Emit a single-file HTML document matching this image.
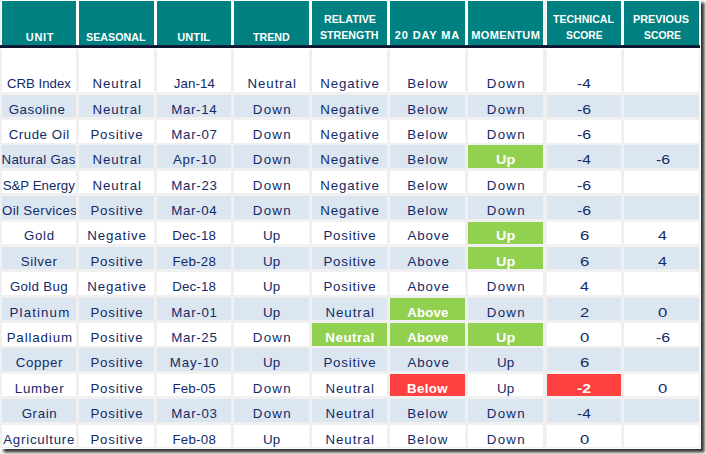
<!DOCTYPE html>
<html><head><meta charset="utf-8"><style>
html,body{margin:0;padding:0;background:#fff;width:706px;height:454px;overflow:hidden}
#r{position:relative;width:706px;height:454px;overflow:hidden}
#r div{position:absolute}
#clip0{left:0;top:0;width:76px;height:449px;overflow:hidden}
.t{white-space:pre;font-family:"Liberation Sans",sans-serif;transform-origin:0 0}
</style></head><body><div id="r">
<div style="left:-1px;top:-2px;width:702px;height:451px;background:#f0f0f0;box-shadow:3.5px 3.5px 3px rgba(0,0,0,0.8)"></div>
<div style="left:0px;top:449px;width:2px;height:5px;background:#f0f0f0"></div>
<div style="left:1px;top:0px;width:700px;height:45px;background:#ffffff"></div>
<div style="left:2px;top:1px;width:74px;height:44px;background:#008080"></div>
<div style="left:79px;top:1px;width:75px;height:44px;background:#008080"></div>
<div style="left:157px;top:1px;width:74px;height:44px;background:#008080"></div>
<div style="left:234px;top:1px;width:75px;height:44px;background:#008080"></div>
<div style="left:312px;top:1px;width:75px;height:44px;background:#008080"></div>
<div style="left:390px;top:1px;width:75px;height:44px;background:#008080"></div>
<div style="left:468px;top:1px;width:75px;height:44px;background:#008080"></div>
<div style="left:547px;top:1px;width:74px;height:44px;background:#008080"></div>
<div style="left:624px;top:1px;width:75px;height:44px;background:#008080"></div>
<div style="left:0px;top:45px;width:701px;height:1px;background:#17223f"></div>
<div style="left:0px;top:46px;width:701px;height:2px;background:#0b1631"></div>
<div style="left:0px;top:48px;width:701px;height:1px;background:#ffffff"></div>
<div style="left:544px;top:1px;width:2px;height:44px;background:#f0f0f0"></div>
<div style="left:700px;top:0px;width:1px;height:449px;background:#ffffff"></div>
<div style="left:0px;top:448px;width:701px;height:1px;background:#ffffff"></div>
<div style="left:2px;top:49px;width:74px;height:43px;background:#ffffff"></div>
<div style="left:79px;top:49px;width:75px;height:43px;background:#ffffff"></div>
<div style="left:157px;top:49px;width:74px;height:43px;background:#ffffff"></div>
<div style="left:234px;top:49px;width:75px;height:43px;background:#ffffff"></div>
<div style="left:312px;top:49px;width:75px;height:43px;background:#ffffff"></div>
<div style="left:390px;top:49px;width:75px;height:43px;background:#ffffff"></div>
<div style="left:468px;top:49px;width:75px;height:43px;background:#ffffff"></div>
<div style="left:547px;top:49px;width:74px;height:43px;background:#ffffff"></div>
<div style="left:624px;top:49px;width:75px;height:43px;background:#ffffff"></div>
<div style="left:2px;top:95px;width:74px;height:22px;background:#dce6f1"></div>
<div style="left:79px;top:95px;width:75px;height:22px;background:#dce6f1"></div>
<div style="left:157px;top:95px;width:74px;height:22px;background:#dce6f1"></div>
<div style="left:234px;top:95px;width:75px;height:22px;background:#dce6f1"></div>
<div style="left:312px;top:95px;width:75px;height:22px;background:#dce6f1"></div>
<div style="left:390px;top:95px;width:75px;height:22px;background:#dce6f1"></div>
<div style="left:468px;top:95px;width:75px;height:22px;background:#dce6f1"></div>
<div style="left:547px;top:95px;width:74px;height:22px;background:#dce6f1"></div>
<div style="left:624px;top:95px;width:75px;height:22px;background:#dce6f1"></div>
<div style="left:2px;top:120px;width:74px;height:23px;background:#ffffff"></div>
<div style="left:79px;top:120px;width:75px;height:23px;background:#ffffff"></div>
<div style="left:157px;top:120px;width:74px;height:23px;background:#ffffff"></div>
<div style="left:234px;top:120px;width:75px;height:23px;background:#ffffff"></div>
<div style="left:312px;top:120px;width:75px;height:23px;background:#ffffff"></div>
<div style="left:390px;top:120px;width:75px;height:23px;background:#ffffff"></div>
<div style="left:468px;top:120px;width:75px;height:23px;background:#ffffff"></div>
<div style="left:547px;top:120px;width:74px;height:23px;background:#ffffff"></div>
<div style="left:624px;top:120px;width:75px;height:23px;background:#ffffff"></div>
<div style="left:2px;top:145px;width:74px;height:23px;background:#dce6f1"></div>
<div style="left:79px;top:145px;width:75px;height:23px;background:#dce6f1"></div>
<div style="left:157px;top:145px;width:74px;height:23px;background:#dce6f1"></div>
<div style="left:234px;top:145px;width:75px;height:23px;background:#dce6f1"></div>
<div style="left:312px;top:145px;width:75px;height:23px;background:#dce6f1"></div>
<div style="left:390px;top:145px;width:75px;height:23px;background:#dce6f1"></div>
<div style="left:468px;top:145px;width:75px;height:23px;background:#92d050"></div>
<div style="left:547px;top:145px;width:74px;height:23px;background:#dce6f1"></div>
<div style="left:624px;top:145px;width:75px;height:23px;background:#dce6f1"></div>
<div style="left:2px;top:171px;width:74px;height:22px;background:#ffffff"></div>
<div style="left:79px;top:171px;width:75px;height:22px;background:#ffffff"></div>
<div style="left:157px;top:171px;width:74px;height:22px;background:#ffffff"></div>
<div style="left:234px;top:171px;width:75px;height:22px;background:#ffffff"></div>
<div style="left:312px;top:171px;width:75px;height:22px;background:#ffffff"></div>
<div style="left:390px;top:171px;width:75px;height:22px;background:#ffffff"></div>
<div style="left:468px;top:171px;width:75px;height:22px;background:#ffffff"></div>
<div style="left:547px;top:171px;width:74px;height:22px;background:#ffffff"></div>
<div style="left:624px;top:171px;width:75px;height:22px;background:#ffffff"></div>
<div style="left:2px;top:196px;width:74px;height:23px;background:#dce6f1"></div>
<div style="left:79px;top:196px;width:75px;height:23px;background:#dce6f1"></div>
<div style="left:157px;top:196px;width:74px;height:23px;background:#dce6f1"></div>
<div style="left:234px;top:196px;width:75px;height:23px;background:#dce6f1"></div>
<div style="left:312px;top:196px;width:75px;height:23px;background:#dce6f1"></div>
<div style="left:390px;top:196px;width:75px;height:23px;background:#dce6f1"></div>
<div style="left:468px;top:196px;width:75px;height:23px;background:#dce6f1"></div>
<div style="left:547px;top:196px;width:74px;height:23px;background:#dce6f1"></div>
<div style="left:624px;top:196px;width:75px;height:23px;background:#dce6f1"></div>
<div style="left:2px;top:222px;width:74px;height:22px;background:#ffffff"></div>
<div style="left:79px;top:222px;width:75px;height:22px;background:#ffffff"></div>
<div style="left:157px;top:222px;width:74px;height:22px;background:#ffffff"></div>
<div style="left:234px;top:222px;width:75px;height:22px;background:#ffffff"></div>
<div style="left:312px;top:222px;width:75px;height:22px;background:#ffffff"></div>
<div style="left:390px;top:222px;width:75px;height:22px;background:#ffffff"></div>
<div style="left:468px;top:222px;width:75px;height:22px;background:#92d050"></div>
<div style="left:547px;top:222px;width:74px;height:22px;background:#ffffff"></div>
<div style="left:624px;top:222px;width:75px;height:22px;background:#ffffff"></div>
<div style="left:2px;top:247px;width:74px;height:22px;background:#dce6f1"></div>
<div style="left:79px;top:247px;width:75px;height:22px;background:#dce6f1"></div>
<div style="left:157px;top:247px;width:74px;height:22px;background:#dce6f1"></div>
<div style="left:234px;top:247px;width:75px;height:22px;background:#dce6f1"></div>
<div style="left:312px;top:247px;width:75px;height:22px;background:#dce6f1"></div>
<div style="left:390px;top:247px;width:75px;height:22px;background:#dce6f1"></div>
<div style="left:468px;top:247px;width:75px;height:22px;background:#92d050"></div>
<div style="left:547px;top:247px;width:74px;height:22px;background:#dce6f1"></div>
<div style="left:624px;top:247px;width:75px;height:22px;background:#dce6f1"></div>
<div style="left:2px;top:272px;width:74px;height:23px;background:#ffffff"></div>
<div style="left:79px;top:272px;width:75px;height:23px;background:#ffffff"></div>
<div style="left:157px;top:272px;width:74px;height:23px;background:#ffffff"></div>
<div style="left:234px;top:272px;width:75px;height:23px;background:#ffffff"></div>
<div style="left:312px;top:272px;width:75px;height:23px;background:#ffffff"></div>
<div style="left:390px;top:272px;width:75px;height:23px;background:#ffffff"></div>
<div style="left:468px;top:272px;width:75px;height:23px;background:#ffffff"></div>
<div style="left:547px;top:272px;width:74px;height:23px;background:#ffffff"></div>
<div style="left:624px;top:272px;width:75px;height:23px;background:#ffffff"></div>
<div style="left:2px;top:298px;width:74px;height:22px;background:#dce6f1"></div>
<div style="left:79px;top:298px;width:75px;height:22px;background:#dce6f1"></div>
<div style="left:157px;top:298px;width:74px;height:22px;background:#dce6f1"></div>
<div style="left:234px;top:298px;width:75px;height:22px;background:#dce6f1"></div>
<div style="left:312px;top:298px;width:75px;height:22px;background:#dce6f1"></div>
<div style="left:390px;top:298px;width:75px;height:22px;background:#92d050"></div>
<div style="left:468px;top:298px;width:75px;height:22px;background:#dce6f1"></div>
<div style="left:547px;top:298px;width:74px;height:22px;background:#dce6f1"></div>
<div style="left:624px;top:298px;width:75px;height:22px;background:#dce6f1"></div>
<div style="left:2px;top:323px;width:74px;height:23px;background:#ffffff"></div>
<div style="left:79px;top:323px;width:75px;height:23px;background:#ffffff"></div>
<div style="left:157px;top:323px;width:74px;height:23px;background:#ffffff"></div>
<div style="left:234px;top:323px;width:75px;height:23px;background:#ffffff"></div>
<div style="left:312px;top:323px;width:75px;height:23px;background:#92d050"></div>
<div style="left:390px;top:323px;width:75px;height:23px;background:#92d050"></div>
<div style="left:468px;top:323px;width:75px;height:23px;background:#92d050"></div>
<div style="left:547px;top:323px;width:74px;height:23px;background:#ffffff"></div>
<div style="left:624px;top:323px;width:75px;height:23px;background:#ffffff"></div>
<div style="left:2px;top:348px;width:74px;height:23px;background:#dce6f1"></div>
<div style="left:79px;top:348px;width:75px;height:23px;background:#dce6f1"></div>
<div style="left:157px;top:348px;width:74px;height:23px;background:#dce6f1"></div>
<div style="left:234px;top:348px;width:75px;height:23px;background:#dce6f1"></div>
<div style="left:312px;top:348px;width:75px;height:23px;background:#dce6f1"></div>
<div style="left:390px;top:348px;width:75px;height:23px;background:#dce6f1"></div>
<div style="left:468px;top:348px;width:75px;height:23px;background:#dce6f1"></div>
<div style="left:547px;top:348px;width:74px;height:23px;background:#dce6f1"></div>
<div style="left:624px;top:348px;width:75px;height:23px;background:#dce6f1"></div>
<div style="left:2px;top:374px;width:74px;height:22px;background:#ffffff"></div>
<div style="left:79px;top:374px;width:75px;height:22px;background:#ffffff"></div>
<div style="left:157px;top:374px;width:74px;height:22px;background:#ffffff"></div>
<div style="left:234px;top:374px;width:75px;height:22px;background:#ffffff"></div>
<div style="left:312px;top:374px;width:75px;height:22px;background:#ffffff"></div>
<div style="left:390px;top:374px;width:75px;height:22px;background:#ff4040"></div>
<div style="left:468px;top:374px;width:75px;height:22px;background:#ffffff"></div>
<div style="left:547px;top:374px;width:74px;height:22px;background:#ff4040"></div>
<div style="left:624px;top:374px;width:75px;height:22px;background:#ffffff"></div>
<div style="left:2px;top:399px;width:74px;height:23px;background:#dce6f1"></div>
<div style="left:79px;top:399px;width:75px;height:23px;background:#dce6f1"></div>
<div style="left:157px;top:399px;width:74px;height:23px;background:#dce6f1"></div>
<div style="left:234px;top:399px;width:75px;height:23px;background:#dce6f1"></div>
<div style="left:312px;top:399px;width:75px;height:23px;background:#dce6f1"></div>
<div style="left:390px;top:399px;width:75px;height:23px;background:#dce6f1"></div>
<div style="left:468px;top:399px;width:75px;height:23px;background:#dce6f1"></div>
<div style="left:547px;top:399px;width:74px;height:23px;background:#dce6f1"></div>
<div style="left:624px;top:399px;width:75px;height:23px;background:#dce6f1"></div>
<div style="left:2px;top:425px;width:74px;height:22px;background:#ffffff"></div>
<div style="left:79px;top:425px;width:75px;height:22px;background:#ffffff"></div>
<div style="left:157px;top:425px;width:74px;height:22px;background:#ffffff"></div>
<div style="left:234px;top:425px;width:75px;height:22px;background:#ffffff"></div>
<div style="left:312px;top:425px;width:75px;height:22px;background:#ffffff"></div>
<div style="left:390px;top:425px;width:75px;height:22px;background:#ffffff"></div>
<div style="left:468px;top:425px;width:75px;height:22px;background:#ffffff"></div>
<div style="left:547px;top:425px;width:74px;height:22px;background:#ffffff"></div>
<div style="left:624px;top:425px;width:75px;height:22px;background:#ffffff"></div>
<div class="t" style="left:25.84px;top:26.19px;font-size:11px;line-height:22px;font-weight:bold;color:#ffffff;transform:scaleX(1.0000);letter-spacing:0.680px">UNIT</div>
<div class="t" style="left:86.08px;top:26.19px;font-size:11px;line-height:22px;font-weight:bold;color:#ffffff;transform:scaleX(0.9736);letter-spacing:0.000px">SEASONAL</div>
<div class="t" style="left:177.24px;top:26.19px;font-size:11px;line-height:22px;font-weight:bold;color:#ffffff;transform:scaleX(1.0000);letter-spacing:0.112px">UNTIL</div>
<div class="t" style="left:253.49px;top:26.19px;font-size:11px;line-height:22px;font-weight:bold;color:#ffffff;transform:scaleX(0.9708);letter-spacing:0.000px">TREND</div>
<div class="t" style="left:323.65px;top:8.19px;font-size:11px;line-height:22px;font-weight:bold;color:#ffffff;transform:scaleX(0.9702);letter-spacing:0.000px">RELATIVE</div>
<div class="t" style="left:319.98px;top:24.19px;font-size:11px;line-height:22px;font-weight:bold;color:#ffffff;transform:scaleX(0.9663);letter-spacing:0.000px">STRENGTH</div>
<div class="t" style="left:394.77px;top:24.19px;font-size:11px;line-height:22px;font-weight:bold;color:#ffffff;transform:scaleX(1.0000);letter-spacing:0.867px">20 DAY MA</div>
<div class="t" style="left:471.23px;top:24.19px;font-size:11px;line-height:22px;font-weight:bold;color:#ffffff;transform:scaleX(1.0000);letter-spacing:0.377px">MOMENTUM</div>
<div class="t" style="left:553.49px;top:8.19px;font-size:11px;line-height:22px;font-weight:bold;color:#ffffff;transform:scaleX(0.9582);letter-spacing:0.000px">TECHNICAL</div>
<div class="t" style="left:565.79px;top:24.19px;font-size:11px;line-height:22px;font-weight:bold;color:#ffffff;transform:scaleX(0.9377);letter-spacing:0.000px">SCORE</div>
<div class="t" style="left:633.34px;top:8.19px;font-size:11px;line-height:22px;font-weight:bold;color:#ffffff;transform:scaleX(0.9845);letter-spacing:0.000px">PREVIOUS</div>
<div class="t" style="left:643.99px;top:24.19px;font-size:11px;line-height:22px;font-weight:bold;color:#ffffff;transform:scaleX(0.9430);letter-spacing:0.000px">SCORE</div>
<div class="t" style="left:92.39px;top:71.09px;font-size:13.3px;line-height:26.6px;font-weight:normal;color:#122a66;transform:scaleX(1.0000);letter-spacing:0.956px">Neutral</div>
<div class="t" style="left:173.78px;top:71.09px;font-size:13.3px;line-height:26.6px;font-weight:normal;color:#122a66;transform:scaleX(1.0000);letter-spacing:0.093px">Jan-14</div>
<div class="t" style="left:247.39px;top:71.09px;font-size:13.3px;line-height:26.6px;font-weight:normal;color:#122a66;transform:scaleX(1.0000);letter-spacing:0.956px">Neutral</div>
<div class="t" style="left:320.14px;top:71.09px;font-size:13.3px;line-height:26.6px;font-weight:normal;color:#122a66;transform:scaleX(1.0000);letter-spacing:0.913px">Negative</div>
<div class="t" style="left:407.19px;top:71.09px;font-size:13.3px;line-height:26.6px;font-weight:normal;color:#122a66;transform:scaleX(1.0000);letter-spacing:0.964px">Below</div>
<div class="t" style="left:486.74px;top:71.09px;font-size:13.3px;line-height:26.6px;font-weight:normal;color:#122a66;transform:scaleX(1.0000);letter-spacing:1.316px">Down</div>
<div class="t" style="left:577.33px;top:71.09px;font-size:13.3px;line-height:26.6px;font-weight:normal;color:#122a66;transform:scaleX(1.1645);letter-spacing:0.000px">-4</div>
<div class="t" style="left:92.39px;top:97.09px;font-size:13.3px;line-height:26.6px;font-weight:normal;color:#122a66;transform:scaleX(1.0000);letter-spacing:0.956px">Neutral</div>
<div class="t" style="left:171.24px;top:97.09px;font-size:13.3px;line-height:26.6px;font-weight:normal;color:#122a66;transform:scaleX(1.0000);letter-spacing:0.660px">Mar-14</div>
<div class="t" style="left:252.74px;top:97.09px;font-size:13.3px;line-height:26.6px;font-weight:normal;color:#122a66;transform:scaleX(1.0000);letter-spacing:1.316px">Down</div>
<div class="t" style="left:320.14px;top:97.09px;font-size:13.3px;line-height:26.6px;font-weight:normal;color:#122a66;transform:scaleX(1.0000);letter-spacing:0.913px">Negative</div>
<div class="t" style="left:407.19px;top:97.09px;font-size:13.3px;line-height:26.6px;font-weight:normal;color:#122a66;transform:scaleX(1.0000);letter-spacing:0.964px">Below</div>
<div class="t" style="left:486.74px;top:97.09px;font-size:13.3px;line-height:26.6px;font-weight:normal;color:#122a66;transform:scaleX(1.0000);letter-spacing:1.316px">Down</div>
<div class="t" style="left:577.31px;top:97.09px;font-size:13.3px;line-height:26.6px;font-weight:normal;color:#122a66;transform:scaleX(1.1936);letter-spacing:0.000px">-6</div>
<div class="t" style="left:90.39px;top:122.09px;font-size:13.3px;line-height:26.6px;font-weight:normal;color:#122a66;transform:scaleX(1.0000);letter-spacing:0.821px">Positive</div>
<div class="t" style="left:171.24px;top:122.09px;font-size:13.3px;line-height:26.6px;font-weight:normal;color:#122a66;transform:scaleX(1.0000);letter-spacing:0.714px">Mar-07</div>
<div class="t" style="left:252.74px;top:122.09px;font-size:13.3px;line-height:26.6px;font-weight:normal;color:#122a66;transform:scaleX(1.0000);letter-spacing:1.316px">Down</div>
<div class="t" style="left:320.14px;top:122.09px;font-size:13.3px;line-height:26.6px;font-weight:normal;color:#122a66;transform:scaleX(1.0000);letter-spacing:0.913px">Negative</div>
<div class="t" style="left:407.19px;top:122.09px;font-size:13.3px;line-height:26.6px;font-weight:normal;color:#122a66;transform:scaleX(1.0000);letter-spacing:0.964px">Below</div>
<div class="t" style="left:486.74px;top:122.09px;font-size:13.3px;line-height:26.6px;font-weight:normal;color:#122a66;transform:scaleX(1.0000);letter-spacing:1.316px">Down</div>
<div class="t" style="left:577.31px;top:122.09px;font-size:13.3px;line-height:26.6px;font-weight:normal;color:#122a66;transform:scaleX(1.1936);letter-spacing:0.000px">-6</div>
<div class="t" style="left:92.39px;top:147.09px;font-size:13.3px;line-height:26.6px;font-weight:normal;color:#122a66;transform:scaleX(1.0000);letter-spacing:0.956px">Neutral</div>
<div class="t" style="left:172.95px;top:147.09px;font-size:13.3px;line-height:26.6px;font-weight:normal;color:#122a66;transform:scaleX(1.0000);letter-spacing:0.666px">Apr-10</div>
<div class="t" style="left:252.74px;top:147.09px;font-size:13.3px;line-height:26.6px;font-weight:normal;color:#122a66;transform:scaleX(1.0000);letter-spacing:1.316px">Down</div>
<div class="t" style="left:320.14px;top:147.09px;font-size:13.3px;line-height:26.6px;font-weight:normal;color:#122a66;transform:scaleX(1.0000);letter-spacing:0.913px">Negative</div>
<div class="t" style="left:407.19px;top:147.09px;font-size:13.3px;line-height:26.6px;font-weight:normal;color:#122a66;transform:scaleX(1.0000);letter-spacing:0.964px">Below</div>
<div class="t" style="left:496.09px;top:147.09px;font-size:13.3px;line-height:26.6px;font-weight:bold;color:#ffffff;transform:scaleX(1.0820);letter-spacing:0.000px">Up</div>
<div class="t" style="left:577.33px;top:147.09px;font-size:13.3px;line-height:26.6px;font-weight:normal;color:#122a66;transform:scaleX(1.1645);letter-spacing:0.000px">-4</div>
<div class="t" style="left:655.72px;top:147.09px;font-size:13.3px;line-height:26.6px;font-weight:normal;color:#122a66;transform:scaleX(1.1936);letter-spacing:0.000px">-6</div>
<div class="t" style="left:92.39px;top:173.09px;font-size:13.3px;line-height:26.6px;font-weight:normal;color:#122a66;transform:scaleX(1.0000);letter-spacing:0.956px">Neutral</div>
<div class="t" style="left:171.24px;top:173.09px;font-size:13.3px;line-height:26.6px;font-weight:normal;color:#122a66;transform:scaleX(1.0000);letter-spacing:0.714px">Mar-23</div>
<div class="t" style="left:252.74px;top:173.09px;font-size:13.3px;line-height:26.6px;font-weight:normal;color:#122a66;transform:scaleX(1.0000);letter-spacing:1.316px">Down</div>
<div class="t" style="left:320.14px;top:173.09px;font-size:13.3px;line-height:26.6px;font-weight:normal;color:#122a66;transform:scaleX(1.0000);letter-spacing:0.913px">Negative</div>
<div class="t" style="left:407.19px;top:173.09px;font-size:13.3px;line-height:26.6px;font-weight:normal;color:#122a66;transform:scaleX(1.0000);letter-spacing:0.964px">Below</div>
<div class="t" style="left:486.74px;top:173.09px;font-size:13.3px;line-height:26.6px;font-weight:normal;color:#122a66;transform:scaleX(1.0000);letter-spacing:1.316px">Down</div>
<div class="t" style="left:577.31px;top:173.09px;font-size:13.3px;line-height:26.6px;font-weight:normal;color:#122a66;transform:scaleX(1.1936);letter-spacing:0.000px">-6</div>
<div class="t" style="left:90.39px;top:198.09px;font-size:13.3px;line-height:26.6px;font-weight:normal;color:#122a66;transform:scaleX(1.0000);letter-spacing:0.821px">Positive</div>
<div class="t" style="left:171.24px;top:198.09px;font-size:13.3px;line-height:26.6px;font-weight:normal;color:#122a66;transform:scaleX(1.0000);letter-spacing:0.660px">Mar-04</div>
<div class="t" style="left:252.74px;top:198.09px;font-size:13.3px;line-height:26.6px;font-weight:normal;color:#122a66;transform:scaleX(1.0000);letter-spacing:1.316px">Down</div>
<div class="t" style="left:320.14px;top:198.09px;font-size:13.3px;line-height:26.6px;font-weight:normal;color:#122a66;transform:scaleX(1.0000);letter-spacing:0.913px">Negative</div>
<div class="t" style="left:407.19px;top:198.09px;font-size:13.3px;line-height:26.6px;font-weight:normal;color:#122a66;transform:scaleX(1.0000);letter-spacing:0.964px">Below</div>
<div class="t" style="left:486.74px;top:198.09px;font-size:13.3px;line-height:26.6px;font-weight:normal;color:#122a66;transform:scaleX(1.0000);letter-spacing:1.316px">Down</div>
<div class="t" style="left:577.31px;top:198.09px;font-size:13.3px;line-height:26.6px;font-weight:normal;color:#122a66;transform:scaleX(1.1936);letter-spacing:0.000px">-6</div>
<div class="t" style="left:87.14px;top:223.09px;font-size:13.3px;line-height:26.6px;font-weight:normal;color:#122a66;transform:scaleX(1.0000);letter-spacing:0.913px">Negative</div>
<div class="t" style="left:172.14px;top:223.09px;font-size:13.3px;line-height:26.6px;font-weight:normal;color:#122a66;transform:scaleX(1.0000);letter-spacing:0.194px">Dec-18</div>
<div class="t" style="left:262.98px;top:223.09px;font-size:13.3px;line-height:26.6px;font-weight:normal;color:#122a66;transform:scaleX(1.0047);letter-spacing:0.000px">Up</div>
<div class="t" style="left:323.39px;top:223.09px;font-size:13.3px;line-height:26.6px;font-weight:normal;color:#122a66;transform:scaleX(1.0000);letter-spacing:0.821px">Positive</div>
<div class="t" style="left:407.40px;top:223.09px;font-size:13.3px;line-height:26.6px;font-weight:normal;color:#122a66;transform:scaleX(1.0000);letter-spacing:0.923px">Above</div>
<div class="t" style="left:496.09px;top:223.09px;font-size:13.3px;line-height:26.6px;font-weight:bold;color:#ffffff;transform:scaleX(1.0820);letter-spacing:0.000px">Up</div>
<div class="t" style="left:579.61px;top:223.09px;font-size:13.3px;line-height:26.6px;font-weight:normal;color:#122a66;transform:scaleX(1.2586);letter-spacing:0.000px">6</div>
<div class="t" style="left:658.33px;top:223.09px;font-size:13.3px;line-height:26.6px;font-weight:normal;color:#122a66;transform:scaleX(1.1942);letter-spacing:0.000px">4</div>
<div class="t" style="left:90.39px;top:249.09px;font-size:13.3px;line-height:26.6px;font-weight:normal;color:#122a66;transform:scaleX(1.0000);letter-spacing:0.821px">Positive</div>
<div class="t" style="left:172.39px;top:249.09px;font-size:13.3px;line-height:26.6px;font-weight:normal;color:#122a66;transform:scaleX(1.0000);letter-spacing:0.254px">Feb-28</div>
<div class="t" style="left:262.98px;top:249.09px;font-size:13.3px;line-height:26.6px;font-weight:normal;color:#122a66;transform:scaleX(1.0047);letter-spacing:0.000px">Up</div>
<div class="t" style="left:323.39px;top:249.09px;font-size:13.3px;line-height:26.6px;font-weight:normal;color:#122a66;transform:scaleX(1.0000);letter-spacing:0.821px">Positive</div>
<div class="t" style="left:407.40px;top:249.09px;font-size:13.3px;line-height:26.6px;font-weight:normal;color:#122a66;transform:scaleX(1.0000);letter-spacing:0.923px">Above</div>
<div class="t" style="left:496.09px;top:249.09px;font-size:13.3px;line-height:26.6px;font-weight:bold;color:#ffffff;transform:scaleX(1.0820);letter-spacing:0.000px">Up</div>
<div class="t" style="left:579.61px;top:249.09px;font-size:13.3px;line-height:26.6px;font-weight:normal;color:#122a66;transform:scaleX(1.2586);letter-spacing:0.000px">6</div>
<div class="t" style="left:658.33px;top:249.09px;font-size:13.3px;line-height:26.6px;font-weight:normal;color:#122a66;transform:scaleX(1.1942);letter-spacing:0.000px">4</div>
<div class="t" style="left:87.14px;top:274.09px;font-size:13.3px;line-height:26.6px;font-weight:normal;color:#122a66;transform:scaleX(1.0000);letter-spacing:0.913px">Negative</div>
<div class="t" style="left:172.14px;top:274.09px;font-size:13.3px;line-height:26.6px;font-weight:normal;color:#122a66;transform:scaleX(1.0000);letter-spacing:0.194px">Dec-18</div>
<div class="t" style="left:262.98px;top:274.09px;font-size:13.3px;line-height:26.6px;font-weight:normal;color:#122a66;transform:scaleX(1.0047);letter-spacing:0.000px">Up</div>
<div class="t" style="left:323.39px;top:274.09px;font-size:13.3px;line-height:26.6px;font-weight:normal;color:#122a66;transform:scaleX(1.0000);letter-spacing:0.821px">Positive</div>
<div class="t" style="left:407.40px;top:274.09px;font-size:13.3px;line-height:26.6px;font-weight:normal;color:#122a66;transform:scaleX(1.0000);letter-spacing:0.923px">Above</div>
<div class="t" style="left:486.74px;top:274.09px;font-size:13.3px;line-height:26.6px;font-weight:normal;color:#122a66;transform:scaleX(1.0000);letter-spacing:1.316px">Down</div>
<div class="t" style="left:579.93px;top:274.09px;font-size:13.3px;line-height:26.6px;font-weight:normal;color:#122a66;transform:scaleX(1.1942);letter-spacing:0.000px">4</div>
<div class="t" style="left:90.39px;top:300.09px;font-size:13.3px;line-height:26.6px;font-weight:normal;color:#122a66;transform:scaleX(1.0000);letter-spacing:0.821px">Positive</div>
<div class="t" style="left:171.24px;top:300.09px;font-size:13.3px;line-height:26.6px;font-weight:normal;color:#122a66;transform:scaleX(1.0000);letter-spacing:0.714px">Mar-01</div>
<div class="t" style="left:262.98px;top:300.09px;font-size:13.3px;line-height:26.6px;font-weight:normal;color:#122a66;transform:scaleX(1.0047);letter-spacing:0.000px">Up</div>
<div class="t" style="left:325.39px;top:300.09px;font-size:13.3px;line-height:26.6px;font-weight:normal;color:#122a66;transform:scaleX(1.0000);letter-spacing:0.956px">Neutral</div>
<div class="t" style="left:407.30px;top:300.09px;font-size:13.3px;line-height:26.6px;font-weight:bold;color:#ffffff;transform:scaleX(1.0000);letter-spacing:0.108px">Above</div>
<div class="t" style="left:486.74px;top:300.09px;font-size:13.3px;line-height:26.6px;font-weight:normal;color:#122a66;transform:scaleX(1.0000);letter-spacing:1.316px">Down</div>
<div class="t" style="left:579.67px;top:300.09px;font-size:13.3px;line-height:26.6px;font-weight:normal;color:#122a66;transform:scaleX(1.2422);letter-spacing:0.000px">2</div>
<div class="t" style="left:658.03px;top:300.09px;font-size:13.3px;line-height:26.6px;font-weight:normal;color:#122a66;transform:scaleX(1.2531);letter-spacing:0.000px">0</div>
<div class="t" style="left:90.39px;top:325.09px;font-size:13.3px;line-height:26.6px;font-weight:normal;color:#122a66;transform:scaleX(1.0000);letter-spacing:0.821px">Positive</div>
<div class="t" style="left:171.24px;top:325.09px;font-size:13.3px;line-height:26.6px;font-weight:normal;color:#122a66;transform:scaleX(1.0000);letter-spacing:0.687px">Mar-25</div>
<div class="t" style="left:252.74px;top:325.09px;font-size:13.3px;line-height:26.6px;font-weight:normal;color:#122a66;transform:scaleX(1.0000);letter-spacing:1.316px">Down</div>
<div class="t" style="left:325.37px;top:325.09px;font-size:13.3px;line-height:26.6px;font-weight:bold;color:#ffffff;transform:scaleX(1.0000);letter-spacing:0.518px">Neutral</div>
<div class="t" style="left:407.30px;top:325.09px;font-size:13.3px;line-height:26.6px;font-weight:bold;color:#ffffff;transform:scaleX(1.0000);letter-spacing:0.108px">Above</div>
<div class="t" style="left:496.09px;top:325.09px;font-size:13.3px;line-height:26.6px;font-weight:bold;color:#ffffff;transform:scaleX(1.0820);letter-spacing:0.000px">Up</div>
<div class="t" style="left:579.63px;top:325.09px;font-size:13.3px;line-height:26.6px;font-weight:normal;color:#122a66;transform:scaleX(1.2531);letter-spacing:0.000px">0</div>
<div class="t" style="left:655.72px;top:325.09px;font-size:13.3px;line-height:26.6px;font-weight:normal;color:#122a66;transform:scaleX(1.1936);letter-spacing:0.000px">-6</div>
<div class="t" style="left:90.39px;top:350.09px;font-size:13.3px;line-height:26.6px;font-weight:normal;color:#122a66;transform:scaleX(1.0000);letter-spacing:0.821px">Positive</div>
<div class="t" style="left:169.84px;top:350.09px;font-size:13.3px;line-height:26.6px;font-weight:normal;color:#122a66;transform:scaleX(1.0000);letter-spacing:0.821px">May-10</div>
<div class="t" style="left:262.98px;top:350.09px;font-size:13.3px;line-height:26.6px;font-weight:normal;color:#122a66;transform:scaleX(1.0047);letter-spacing:0.000px">Up</div>
<div class="t" style="left:323.39px;top:350.09px;font-size:13.3px;line-height:26.6px;font-weight:normal;color:#122a66;transform:scaleX(1.0000);letter-spacing:0.821px">Positive</div>
<div class="t" style="left:407.40px;top:350.09px;font-size:13.3px;line-height:26.6px;font-weight:normal;color:#122a66;transform:scaleX(1.0000);letter-spacing:0.923px">Above</div>
<div class="t" style="left:496.98px;top:350.09px;font-size:13.3px;line-height:26.6px;font-weight:normal;color:#122a66;transform:scaleX(1.0047);letter-spacing:0.000px">Up</div>
<div class="t" style="left:579.61px;top:350.09px;font-size:13.3px;line-height:26.6px;font-weight:normal;color:#122a66;transform:scaleX(1.2586);letter-spacing:0.000px">6</div>
<div class="t" style="left:90.39px;top:376.09px;font-size:13.3px;line-height:26.6px;font-weight:normal;color:#122a66;transform:scaleX(1.0000);letter-spacing:0.821px">Positive</div>
<div class="t" style="left:172.39px;top:376.09px;font-size:13.3px;line-height:26.6px;font-weight:normal;color:#122a66;transform:scaleX(1.0000);letter-spacing:0.227px">Feb-05</div>
<div class="t" style="left:252.74px;top:376.09px;font-size:13.3px;line-height:26.6px;font-weight:normal;color:#122a66;transform:scaleX(1.0000);letter-spacing:1.316px">Down</div>
<div class="t" style="left:325.39px;top:376.09px;font-size:13.3px;line-height:26.6px;font-weight:normal;color:#122a66;transform:scaleX(1.0000);letter-spacing:0.956px">Neutral</div>
<div class="t" style="left:407.02px;top:376.09px;font-size:13.3px;line-height:26.6px;font-weight:bold;color:#ffffff;transform:scaleX(1.0000);letter-spacing:0.349px">Below</div>
<div class="t" style="left:496.98px;top:376.09px;font-size:13.3px;line-height:26.6px;font-weight:normal;color:#122a66;transform:scaleX(1.0047);letter-spacing:0.000px">Up</div>
<div class="t" style="left:577.27px;top:376.09px;font-size:13.3px;line-height:26.6px;font-weight:bold;color:#ffffff;transform:scaleX(1.1882);letter-spacing:0.000px">-2</div>
<div class="t" style="left:658.03px;top:376.09px;font-size:13.3px;line-height:26.6px;font-weight:normal;color:#122a66;transform:scaleX(1.2531);letter-spacing:0.000px">0</div>
<div class="t" style="left:90.39px;top:401.09px;font-size:13.3px;line-height:26.6px;font-weight:normal;color:#122a66;transform:scaleX(1.0000);letter-spacing:0.821px">Positive</div>
<div class="t" style="left:171.24px;top:401.09px;font-size:13.3px;line-height:26.6px;font-weight:normal;color:#122a66;transform:scaleX(1.0000);letter-spacing:0.714px">Mar-03</div>
<div class="t" style="left:252.74px;top:401.09px;font-size:13.3px;line-height:26.6px;font-weight:normal;color:#122a66;transform:scaleX(1.0000);letter-spacing:1.316px">Down</div>
<div class="t" style="left:325.39px;top:401.09px;font-size:13.3px;line-height:26.6px;font-weight:normal;color:#122a66;transform:scaleX(1.0000);letter-spacing:0.956px">Neutral</div>
<div class="t" style="left:407.19px;top:401.09px;font-size:13.3px;line-height:26.6px;font-weight:normal;color:#122a66;transform:scaleX(1.0000);letter-spacing:0.964px">Below</div>
<div class="t" style="left:486.74px;top:401.09px;font-size:13.3px;line-height:26.6px;font-weight:normal;color:#122a66;transform:scaleX(1.0000);letter-spacing:1.316px">Down</div>
<div class="t" style="left:577.33px;top:401.09px;font-size:13.3px;line-height:26.6px;font-weight:normal;color:#122a66;transform:scaleX(1.1645);letter-spacing:0.000px">-4</div>
<div class="t" style="left:90.39px;top:427.09px;font-size:13.3px;line-height:26.6px;font-weight:normal;color:#122a66;transform:scaleX(1.0000);letter-spacing:0.821px">Positive</div>
<div class="t" style="left:172.39px;top:427.09px;font-size:13.3px;line-height:26.6px;font-weight:normal;color:#122a66;transform:scaleX(1.0000);letter-spacing:0.254px">Feb-08</div>
<div class="t" style="left:262.98px;top:427.09px;font-size:13.3px;line-height:26.6px;font-weight:normal;color:#122a66;transform:scaleX(1.0047);letter-spacing:0.000px">Up</div>
<div class="t" style="left:325.39px;top:427.09px;font-size:13.3px;line-height:26.6px;font-weight:normal;color:#122a66;transform:scaleX(1.0000);letter-spacing:0.956px">Neutral</div>
<div class="t" style="left:407.19px;top:427.09px;font-size:13.3px;line-height:26.6px;font-weight:normal;color:#122a66;transform:scaleX(1.0000);letter-spacing:0.964px">Below</div>
<div class="t" style="left:486.74px;top:427.09px;font-size:13.3px;line-height:26.6px;font-weight:normal;color:#122a66;transform:scaleX(1.0000);letter-spacing:1.316px">Down</div>
<div class="t" style="left:579.63px;top:427.09px;font-size:13.3px;line-height:26.6px;font-weight:normal;color:#122a66;transform:scaleX(1.2531);letter-spacing:0.000px">0</div>
<div id="clip0"><div class="t" style="left:7.34px;top:71.09px;font-size:13.3px;line-height:26.6px;font-weight:normal;color:#122a66;transform:scaleX(0.9930);letter-spacing:0.000px">CRB Index</div>
<div class="t" style="left:8.64px;top:97.09px;font-size:13.3px;line-height:26.6px;font-weight:normal;color:#122a66;transform:scaleX(1.0000);letter-spacing:0.542px">Gasoline</div>
<div class="t" style="left:8.64px;top:122.09px;font-size:13.3px;line-height:26.6px;font-weight:normal;color:#122a66;transform:scaleX(1.0000);letter-spacing:0.542px">Crude Oil</div>
<div class="t" style="left:1.54px;top:147.09px;font-size:13.3px;line-height:26.6px;font-weight:normal;color:#122a66;transform:scaleX(1.0000);letter-spacing:0.287px">Natural Gas</div>
<div class="t" style="left:2.63px;top:173.09px;font-size:13.3px;line-height:26.6px;font-weight:normal;color:#122a66;transform:scaleX(1.0000);letter-spacing:0.005px">S&amp;P Energy</div>
<div class="t" style="left:1.94px;top:198.09px;font-size:13.3px;line-height:26.6px;font-weight:normal;color:#122a66;transform:scaleX(1.0000);letter-spacing:0.370px">Oil Services</div>
<div class="t" style="left:24.04px;top:223.09px;font-size:13.3px;line-height:26.6px;font-weight:normal;color:#122a66;transform:scaleX(1.0000);letter-spacing:0.667px">Gold</div>
<div class="t" style="left:20.73px;top:249.09px;font-size:13.3px;line-height:26.6px;font-weight:normal;color:#122a66;transform:scaleX(1.0000);letter-spacing:0.616px">Silver</div>
<div class="t" style="left:9.93px;top:274.09px;font-size:13.3px;line-height:26.6px;font-weight:normal;color:#122a66;transform:scaleX(1.0000);letter-spacing:0.319px">Gold Bug</div>
<div class="t" style="left:9.54px;top:300.09px;font-size:13.3px;line-height:26.6px;font-weight:normal;color:#122a66;transform:scaleX(1.0000);letter-spacing:1.137px">Platinum</div>
<div class="t" style="left:6.64px;top:325.09px;font-size:13.3px;line-height:26.6px;font-weight:normal;color:#122a66;transform:scaleX(1.0000);letter-spacing:0.876px">Palladium</div>
<div class="t" style="left:15.84px;top:350.09px;font-size:13.3px;line-height:26.6px;font-weight:normal;color:#122a66;transform:scaleX(1.0000);letter-spacing:0.581px">Copper</div>
<div class="t" style="left:14.84px;top:376.09px;font-size:13.3px;line-height:26.6px;font-weight:normal;color:#122a66;transform:scaleX(1.0000);letter-spacing:0.749px">Lumber</div>
<div class="t" style="left:21.64px;top:401.09px;font-size:13.3px;line-height:26.6px;font-weight:normal;color:#122a66;transform:scaleX(1.0000);letter-spacing:0.653px">Grain</div>
<div class="t" style="left:3.20px;top:427.09px;font-size:13.3px;line-height:26.6px;font-weight:normal;color:#122a66;transform:scaleX(1.0000);letter-spacing:0.769px">Agriculture</div></div>

</div></body></html>
